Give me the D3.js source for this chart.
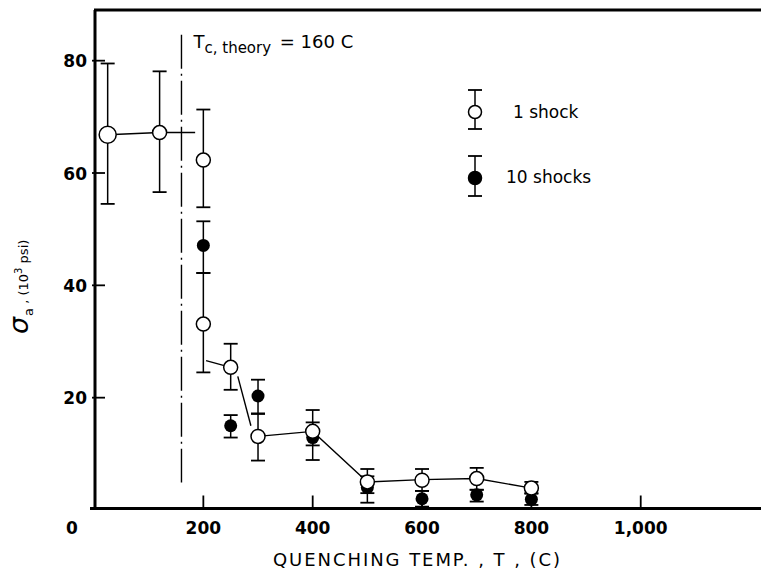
<!DOCTYPE html>
<html>
<head>
<meta charset="utf-8">
<script src="https://cdn.jsdelivr.net/npm/d3@7"></script>
<style>
  html, body { margin: 0; padding: 0; background: #fff; }
  svg { display: block; }
  text { font-family: "DejaVu Sans", sans-serif; fill: #000; }
</style>
</head>
<body>
<svg id="chart" width="761" height="574"></svg>
<script>
// Quenching temperature (C) and strength (10^3 psi), 1 thermal shock
const temps1  = [25, 120, 200, 200, 250, 300, 400, 500, 600, 700, 800];
const sigma1  = [66.8, 67.2, 62.3, 33.1, 25.4, 13.1, 14.0, 5.0, 5.3, 5.6, 3.9];
const upper1  = [79.5, 78.1, 71.3, 42.2, 29.6, 17.2, 17.8, 7.3, 7.3, 7.5, 5.0];
const lower1  = [54.5, 56.6, 53.9, 24.5, 21.4, 8.8, 11.5, 3.0, 3.4, 3.6, 2.9];

// 10 thermal shocks
const temps10 = [200, 250, 300, 400, 500, 600, 700, 800];
const sigma10 = [47.1, 15.0, 20.3, 12.9, 4.0, 2.0, 2.7, 1.9];
const upper10 = [51.4, 16.9, 23.2, 15.6, 6.0, 3.4, 3.6, 3.0];
const lower10 = [42.2, 12.9, 17.1, 8.9, 1.3, 0.6, 1.5, 0.9];

// Hand-drawn trend through the 1-shock results (broken into pieces)
const trendPieces = [
  [[25, 66.8], [120, 67.2], [185, 67.2]],
  [[205, 26.6], [250, 25.4]],
  [[263, 23.8], [287, 15.0]],
  [[300, 13.1], [400, 14.0], [500, 5.0], [600, 5.4], [700, 5.6], [800, 3.9]]
];

const xTicks = [200, 400, 600, 800, 1000];
const xTickLabels = ["200", "400", "600", "800", "1,000"];
const yTicks = [20, 40, 60, 80];
const tcTheory = 160;

const svg = d3.select("#chart");
const x = d3.scaleLinear().domain([0, 1220]).range([94, 761]);
const y = d3.scaleLinear().domain([0, 89.2]).range([510, 9]);
const y0 = y(0) - 1.5;

// Frame: left axis, bottom axis, top rule
svg.append("line").attr("x1", x(0) + 1).attr("x2", x(0) + 1).attr("y1", y(89)).attr("y2", y0 + 1)
  .attr("stroke", "#000").attr("stroke-width", 3);
svg.append("line").attr("x1", x(0) - 4).attr("x2", 761).attr("y1", y0).attr("y2", y0)
  .attr("stroke", "#000").attr("stroke-width", 3);
svg.append("line").attr("x1", x(0)).attr("x2", 761).attr("y1", 10).attr("y2", 10)
  .attr("stroke", "#000").attr("stroke-width", 3);

// Y ticks and labels
const yAxis = svg.append("g");
yAxis.selectAll("line").data(yTicks).join("line")
  .attr("x1", x(0) - 2).attr("x2", x(0) + 11)
  .attr("y1", d => y(d)).attr("y2", d => y(d))
  .attr("stroke", "#000").attr("stroke-width", 1.8);
yAxis.selectAll("text").data(yTicks).join("text")
  .attr("x", x(0) - 7).attr("y", d => y(d) + 6.5)
  .attr("text-anchor", "end").attr("font-size", 17).attr("font-weight", "bold")
  .text(d => d);

// X ticks and labels
const xAxis = svg.append("g");
xAxis.selectAll("line").data(xTicks).join("line")
  .attr("x1", d => x(d)).attr("x2", d => x(d))
  .attr("y1", y0 - 13).attr("y2", y0)
  .attr("stroke", "#000").attr("stroke-width", 1.8);
xAxis.selectAll("text").data(xTicks).join("text")
  .attr("x", d => x(d)).attr("y", 534)
  .attr("text-anchor", "middle").attr("font-size", 17).attr("font-weight", "bold")
  .text((d, i) => xTickLabels[i]);
svg.append("text").attr("x", x(0) - 22).attr("y", 534)
  .attr("text-anchor", "middle").attr("font-size", 17).attr("font-weight", "bold").text("0");

// Axis titles
svg.append("text").attr("x", 273).attr("y", 566)
  .attr("font-size", 18).attr("textLength", 287).attr("lengthAdjust", "spacing")
  .text("QUENCHING TEMP. , T , (C)");

const yTitle = svg.append("text")
  .attr("transform", "translate(28,334) rotate(-90)");
yTitle.append("tspan").attr("font-size", 27).attr("font-style", "italic").text("σ");
yTitle.append("tspan").attr("font-size", 13).attr("dy", 5).attr("dx", 1).text("a");
yTitle.append("tspan").attr("font-size", 13).attr("dy", -5).text(" ,  (10");
yTitle.append("tspan").attr("font-size", 10).attr("dy", -6).text("3");
yTitle.append("tspan").attr("font-size", 13).attr("dy", 6).text(" psi)");

// Theoretical critical temperature (dash-dot)
svg.append("line")
  .attr("x1", x(tcTheory)).attr("x2", x(tcTheory))
  .attr("y1", y(84.6)).attr("y2", y(4.9))
  .attr("stroke", "#000").attr("stroke-width", 1.4)
  .attr("stroke-dasharray", "34,5,2,5");
const tcLabel = svg.append("text").attr("x", x(tcTheory) + 12).attr("y", 48).attr("font-size", 18);
tcLabel.append("tspan").text("T");
tcLabel.append("tspan").attr("font-size", 15).attr("dy", 5).text("c, theory");
tcLabel.append("tspan").attr("dy", -5).attr("dx", 3).text(" = 160 C");

// Trend line
const line = d3.line().x(d => x(d[0])).y(d => y(d[1]));
svg.append("g").selectAll("path").data(trendPieces).join("path")
  .attr("d", line).attr("fill", "none").attr("stroke", "#000").attr("stroke-width", 1.4);

// Error bars
function errorBars(g, temps, upper, lower) {
  const idx = d3.range(temps.length);
  g.selectAll("line.v").data(idx).join("line").attr("class", "v")
    .attr("x1", i => x(temps[i])).attr("x2", i => x(temps[i]))
    .attr("y1", i => y(upper[i])).attr("y2", i => y(lower[i]))
    .attr("stroke", "#000").attr("stroke-width", 1.5);
  g.selectAll("line.t").data(idx).join("line").attr("class", "t")
    .attr("x1", i => x(temps[i]) - 7).attr("x2", i => x(temps[i]) + 7)
    .attr("y1", i => y(upper[i])).attr("y2", i => y(upper[i]))
    .attr("stroke", "#000").attr("stroke-width", 1.8);
  g.selectAll("line.b").data(idx).join("line").attr("class", "b")
    .attr("x1", i => x(temps[i]) - 7).attr("x2", i => x(temps[i]) + 7)
    .attr("y1", i => y(lower[i])).attr("y2", i => y(lower[i]))
    .attr("stroke", "#000").attr("stroke-width", 1.8);
}
errorBars(svg.append("g"), temps10, upper10, lower10);
errorBars(svg.append("g"), temps1, upper1, lower1);

// 10 shocks: filled circles
svg.append("g").selectAll("circle").data(d3.range(temps10.length)).join("circle")
  .attr("cx", i => x(temps10[i])).attr("cy", i => y(sigma10[i])).attr("r", 6.5)
  .attr("fill", "#000");

// 1 shock: open circles
svg.append("g").selectAll("circle").data(d3.range(temps1.length)).join("circle")
  .attr("cx", i => x(temps1[i])).attr("cy", i => y(sigma1[i]))
  .attr("r", i => i === 0 ? 8.5 : 7)
  .attr("fill", "#fff").attr("stroke", "#000").attr("stroke-width", 1.5);

// Legend
const legend = svg.append("g");
const legendItems = [
  { label: "1 shock", filled: false, cy: 112, top: 90, bottom: 129, tx: 513, ty: 118 },
  { label: "10 shocks", filled: true, cy: 178, top: 156, bottom: 196, tx: 506, ty: 183 }
];
const lx = 475;
legendItems.forEach(d => {
  legend.append("line").attr("x1", lx).attr("x2", lx).attr("y1", d.top).attr("y2", d.bottom)
    .attr("stroke", "#000").attr("stroke-width", 1.5);
  [d.top, d.bottom].forEach(v => legend.append("line")
    .attr("x1", lx - 7).attr("x2", lx + 7).attr("y1", v).attr("y2", v)
    .attr("stroke", "#000").attr("stroke-width", 1.8));
  legend.append("circle").attr("cx", lx).attr("cy", d.cy).attr("r", 6.5)
    .attr("fill", d.filled ? "#000" : "#fff").attr("stroke", "#000").attr("stroke-width", 1.5);
  legend.append("text").attr("x", d.tx).attr("y", d.ty).attr("font-size", 17).text(d.label);
});
</script>
</body>
</html>
